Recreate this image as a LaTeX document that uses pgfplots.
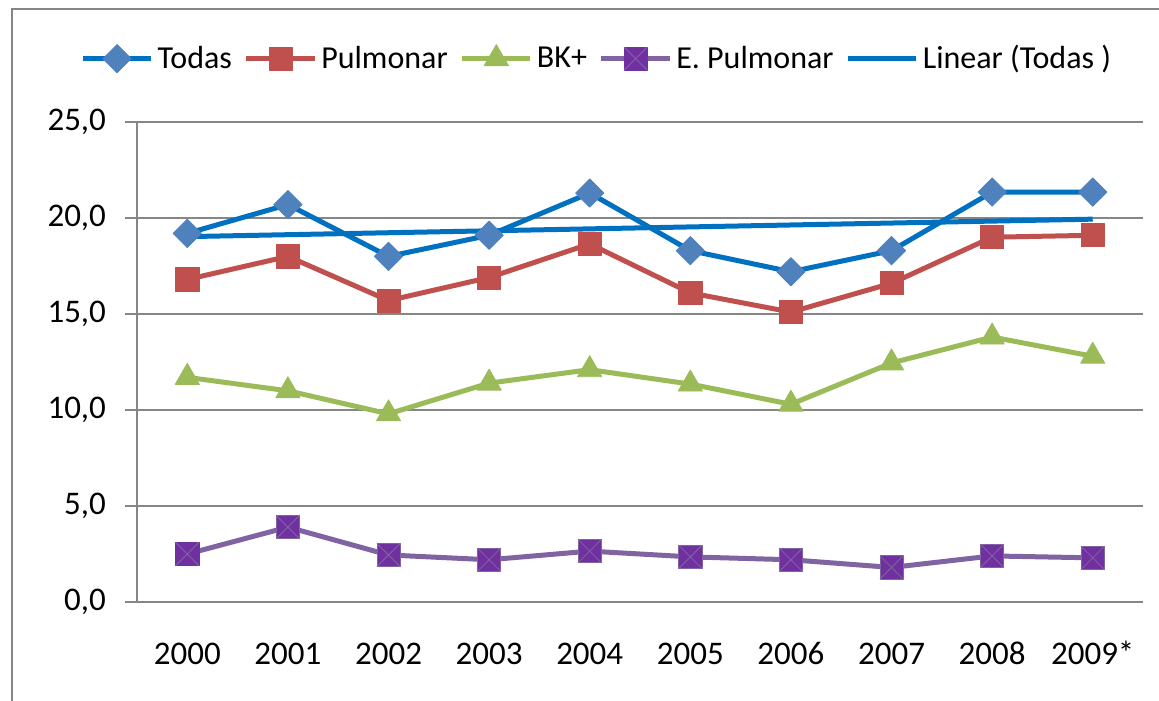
\documentclass[border=0pt]{standalone}
\usepackage{fontspec}
\setmainfont{Carlito}
\usepackage{pgfplots}
\pgfplotsset{compat=1.18}
\definecolor{todasline}{HTML}{0070C0}
\definecolor{todasmark}{HTML}{4F81BD}
\definecolor{pulm}{HTML}{C0504D}
\definecolor{bk}{HTML}{9BBB59}
\definecolor{eline}{HTML}{8064A2}
\definecolor{emark}{HTML}{7030A0}
\definecolor{axgray}{HTML}{868686}
\pgfdeclareplotmark{sqx}{%
  \pgfpathrectangle{\pgfqpoint{-\pgfplotmarksize}{-\pgfplotmarksize}}{\pgfqpoint{2\pgfplotmarksize}{2\pgfplotmarksize}}%
  \pgfusepathqfillstroke
  \pgfsetlinewidth{0.4pt}%
  \pgfsetstrokecolor{eline}%
  \pgfpathmoveto{\pgfqpoint{-\pgfplotmarksize}{-\pgfplotmarksize}}%
  \pgfpathlineto{\pgfqpoint{\pgfplotmarksize}{\pgfplotmarksize}}%
  \pgfpathmoveto{\pgfqpoint{-\pgfplotmarksize}{\pgfplotmarksize}}%
  \pgfpathlineto{\pgfqpoint{\pgfplotmarksize}{-\pgfplotmarksize}}%
  \pgfusepathqstroke
}
\begin{document}
\begin{tikzpicture}
\useasboundingbox (0,0) rectangle (579.5pt,-350pt);
\draw[axgray, line width=1pt] (6pt,-352pt) -- (6pt,-4.5pt) -- (581pt,-4.5pt);
\begin{axis}[
  at={(68.5pt,-301pt)}, anchor=south west,
  width=503pt, height=240pt, scale only axis,
  xmin=-0.5, xmax=9.5, ymin=0, ymax=25,
  axis x line=bottom, axis y line=left,
  axis line style={-, axgray, line width=1pt},
  tick align=outside,
  xtick={0,...,9},
  xticklabels={2000,2001,2002,2003,2004,2005,2006,2007,2008,2009*},
  xtick style={draw=none},
  minor xtick={-0.5,0.5,...,9.5},
  minor tick length=5pt,
  minor x tick style={axgray, line width=1pt},
  ytick={0,5,...,25},
  major tick length=6pt,
  ytick style={axgray, line width=1pt},
  ymajorgrids,
  major grid style={axgray, line width=1pt},
  /pgf/number format/fixed,
  /pgf/number format/fixed zerofill,
  /pgf/number format/precision=1,
  /pgf/number format/use comma,
  /pgf/number format/assume math mode=true,
  yticklabel style={font=\fontsize{16.5}{20}\selectfont, text=black, xshift=-6pt},
  xticklabel style={font=\fontsize{16.5}{20}\selectfont, text=black, yshift=-10pt, text height=11.5pt, text depth=0pt},
  legend columns=5,
  legend style={at={(0.458,1.132)}, anchor=center, draw=none, fill=none,
    font=\fontsize{16}{19}\selectfont,
    /tikz/every even column/.append style={column sep=4pt}},
  legend image code/.code={\draw[mark repeat=2,mark phase=2] plot coordinates {(0cm,0cm) (0.6cm,0cm) (1.2cm,0cm)};},
  every axis plot/.append style={line join=round},
]
\addplot[todasline, line width=2.5pt, mark=square*, mark size=5pt,
  mark options={rotate=45, fill=todasmark, draw=todasmark, line width=0.4pt}]
  coordinates {(0,19.2) (1,20.7) (2,18.0) (3,19.1) (4,21.3) (5,18.3) (6,17.2) (7,18.3) (8,21.35) (9,21.35)};
\addlegendentry{Todas}
\addplot[pulm, line width=2.5pt, mark=square*, mark size=5.8pt,
  mark options={fill=pulm, draw=pulm, line width=0.4pt}]
  coordinates {(0,16.8) (1,18.0) (2,15.7) (3,16.9) (4,18.65) (5,16.1) (6,15.1) (7,16.6) (8,19.0) (9,19.1)};
\addlegendentry{Pulmonar}
\addplot[bk, line width=2.5pt, mark=triangle*, mark size=7pt,
  mark options={fill=bk, draw=bk, line width=0.4pt}]
  coordinates {(0,11.7) (1,11.0) (2,9.8) (3,11.4) (4,12.1) (5,11.35) (6,10.3) (7,12.45) (8,13.8) (9,12.8)};
\addlegendentry{BK+}
\addplot[eline, line width=2.5pt, mark=sqx, mark size=5.8pt,
  mark options={fill=emark, draw=emark, line width=0.4pt}]
  coordinates {(0,2.5) (1,3.9) (2,2.45) (3,2.2) (4,2.65) (5,2.35) (6,2.2) (7,1.8) (8,2.4) (9,2.3)};
\addlegendentry{E. Pulmonar}
\addplot[todasline, line width=2.5pt, no marks]
  coordinates {(0,19.03) (9,19.94)};
\addlegendentry{Linear (Todas )}
\end{axis}
\end{tikzpicture}
\end{document}
